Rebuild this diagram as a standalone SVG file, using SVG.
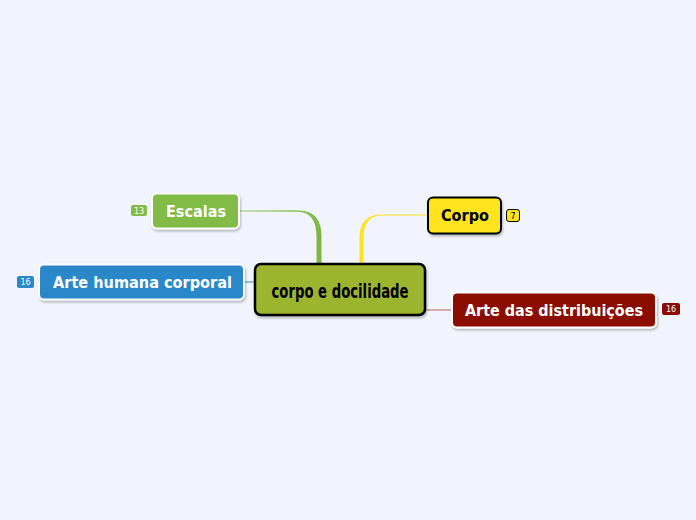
<svg xmlns="http://www.w3.org/2000/svg" width="696" height="520" viewBox="0 0 696 520">
<defs>
<filter id="sh" x="-10%" y="-20%" width="130%" height="150%">
<feDropShadow dx="1" dy="2" stdDeviation="1.2" flood-color="#000" flood-opacity="0.25"/>
</filter>
<linearGradient id="gEsc" x1="240" y1="0" x2="321" y2="0" gradientUnits="userSpaceOnUse">
<stop offset="0" stop-color="#b5d79a"/>
<stop offset="1" stop-color="#7cb83f"/>
</linearGradient>
</defs>
<style>
.lbl{font-family:"DejaVu Sans",Verdana,sans-serif;font-weight:bold;font-size:15px;text-anchor:middle}
.badge{font-family:"DejaVu Sans",Verdana,sans-serif;font-size:8px;text-anchor:middle}
.box{stroke:#fff;stroke-width:2;filter:url(#sh)}
</style>
<rect width="696" height="520" fill="#f1f4fd"/>
<g id="connectors">
<path d="M240,210.3 L297,210.3 Q321.5,210.3 321.5,236 L321.5,264 L316.5,264 L316.5,237 Q316.5,211.8 297,211.8 L240,211.8 Z" fill="url(#gEsc)"/>
<path d="M427,214.6 L382,214.6 Q359.5,214.6 359.5,238 L359.5,264 L363.5,264 L363.5,238 Q363.5,215.6 382,215.6 L427,215.6 Z" fill="#ffe31a"/>
<line x1="245" y1="282" x2="255" y2="282" stroke="#2a88c9" stroke-width="1"/>
<line x1="425" y1="310" x2="451" y2="310" stroke="#c47a7a" stroke-width="1.2"/>
</g>
<g id="center">
<rect x="255" y="264" width="170" height="51" rx="6" fill="#9db52f" stroke="#000" stroke-width="2.5" filter="url(#sh)"/>
<text x="340" y="298" font-family="'DejaVu Sans Condensed','Liberation Sans Narrow',sans-serif" font-weight="bold" font-size="19" text-anchor="middle" textLength="137" lengthAdjust="spacingAndGlyphs" fill="#000">corpo e docilidade</text>
</g>
<g id="escalas">
<rect class="box" x="152" y="193.5" width="87" height="35" rx="5" fill="#82bb45"/>
<text class="lbl" x="196" y="216.5" fill="#fff" textLength="60" lengthAdjust="spacingAndGlyphs">Escalas</text>
<rect x="131" y="205" width="16" height="11" rx="2" fill="#82bb45"/>
<text class="badge" x="139" y="213.5" fill="#fff">13</text>
</g>
<g id="arte-humana">
<rect class="box" x="39" y="264.5" width="205" height="35" rx="5" fill="#2a88c9"/>
<text class="lbl" x="142.5" y="288" fill="#fff" textLength="179" lengthAdjust="spacingAndGlyphs">Arte humana corporal</text>
<rect x="17" y="276" width="17" height="12" rx="2" fill="#2a88c9"/>
<text class="badge" x="25.5" y="285" fill="#fff">16</text>
</g>
<g id="corpo">
<rect x="428" y="197.5" width="73" height="36" rx="5" fill="#ffe31a" stroke="#000" stroke-width="2" filter="url(#sh)"/>
<text class="lbl" x="465" y="221" fill="#000" textLength="48" lengthAdjust="spacingAndGlyphs">Corpo</text>
<rect x="506.5" y="209.5" width="13" height="12" rx="2.5" fill="#ffe31a" stroke="#000" stroke-width="1"/>
<text class="badge" x="513" y="218.5" fill="#000">7</text>
</g>
<g id="arte-distribuicoes">
<rect class="box" x="452" y="292.5" width="204" height="35" rx="5" fill="#8b0c04"/>
<text class="lbl" x="554" y="316" fill="#fff" textLength="178" lengthAdjust="spacingAndGlyphs">Arte das distribuições</text>
<rect x="662" y="303" width="18" height="12" rx="2" fill="#8b0c04"/>
<text class="badge" x="671" y="312" fill="#fff">16</text>
</g>
</svg>
